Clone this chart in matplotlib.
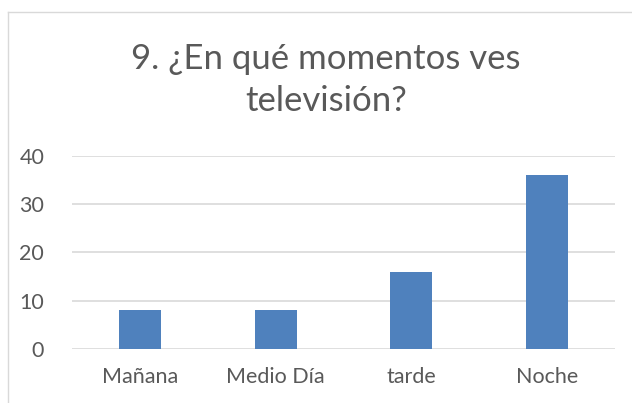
import matplotlib
matplotlib.use("Agg")
import matplotlib.pyplot as plt
from matplotlib.lines import Line2D

categories = ["Mañana", "Medio Día", "tarde", "Noche"]
values = [8, 8, 16, 36]
yticks = [0, 10, 20, 30, 40]

plt.rcParams['font.family'] = ['Lato', 'DejaVu Sans']
text_color = "#595959"

fig = plt.figure(figsize=(6.32, 4.03), dpi=100)
ax = fig.add_axes([72/632, 1 - 349/403, (615-72)/632, (349-156)/403])

ax.bar(range(len(categories)), values, width=0.31, color="#4F81BD", zorder=3)
ax.set_xlim(-0.5, len(categories) - 0.5)
ax.set_ylim(0, 40)
ax.set_yticks(yticks)
ax.set_xticks(range(len(categories)))
ax.set_xticklabels(categories)
ax.grid(axis="y", color="#D9D9D9", linewidth=1.2, zorder=0)
for s in ax.spines.values():
    s.set_visible(False)
ax.tick_params(length=0, labelsize=15.5, colors=text_color, pad=13)
ax.tick_params(axis="y", pad=20)

fig.text(326/632, 1 - 80/403, "9. ¿En qué momentos ves\ntelevisión?", ha="center", va="center",
         fontsize=25, color=text_color, linespacing=1.35)

# chart border (only left and top visible in the crop)
fig.add_artist(Line2D([8/632, 8/632], [0, 1 - 12/403], color="#D9D9D9", lw=1, transform=fig.transFigure))
fig.add_artist(Line2D([8/632, 1], [1 - 12/403, 1 - 12/403], color="#D9D9D9", lw=1, transform=fig.transFigure))

fig.savefig("out.png", dpi=100, facecolor="white")
